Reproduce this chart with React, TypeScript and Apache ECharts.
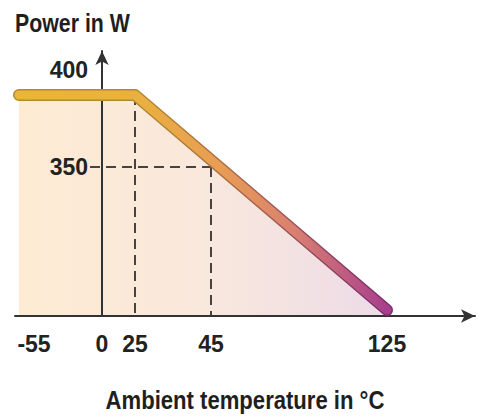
import { useEffect, useRef } from "react";
import * as echarts from "echarts";

// ---- data ----
const tempTicks = [-55, 0, 25, 45, 125];
const powerTicks = [350, 400];
const curveTemp = [-55, 25, 125];
const curvePower = [400, 400, 0];
const guideTemp = [25, 45];
const guidePower = [400, 350];
const yTitle = "Power in W";
const xTitle = "Ambient temperature in °C";

// ---- schematic (non-linear) scale anchors, screen px ----
const W = 479;
const H = 418;
const X_ANCHOR_PX = [19, 102, 135, 211, 387];
const Y_ANCHOR_VAL = [0, 350, 400];
const Y_ANCHOR_PX = [310, 167, 95];
const AXIS_X0 = 15;
const AXIS_X1 = 475;
const AXIS_Y_TOP = 51;
const AXIS_Y_BOTTOM = 316;

function interp(v: number, xs: number[], ys: number[]) {
  for (let i = 0; i < xs.length - 1; i++) {
    if (v <= xs[i + 1] || i === xs.length - 2) {
      const t = (v - xs[i]) / (xs[i + 1] - xs[i]);
      return ys[i] + t * (ys[i + 1] - ys[i]);
    }
  }
  return ys[0];
}
const xPos = (t: number) => interp(t, tempTicks, X_ANCHOR_PX);
const yPos = (p: number) => H - interp(p, Y_ANCHOR_VAL, Y_ANCHOR_PX);
const axisBottom = H - AXIS_Y_BOTTOM;

const FONT = "'Liberation Sans', Arial, sans-serif";

export default function App() {
  const ref = useRef<HTMLDivElement>(null);
  useEffect(() => {
    if (!ref.current) return;
    const chart = echarts.init(ref.current, undefined, { renderer: "svg" });
    const curve = curveTemp.map((t, i) => [xPos(t), yPos(curvePower[i])]);
    const xLabelMap: Record<string, string> = {};
    tempTicks.forEach((t, i) => {
      xLabelMap[xPos(t).toFixed(2)] = i === 0 ? `{first|${t}}` : `${t}`;
    });
    const yLabelMap: Record<string, string> = {};
    powerTicks.forEach((p) => {
      yLabelMap[yPos(p).toFixed(2)] = p === 400 ? `{top|${p}}` : `${p}`;
    });
    const lineGrad = (stops: string[]) =>
      new echarts.graphic.LinearGradient(
        0, 0, 1, 0,
        stops.map((c, i) => ({ offset: [0, 0.33, 0.55, 0.75, 1][i], color: c }))
      );
    const dash = {
      color: "#444",
      width: 2,
      type: [10, 6] as any,
    };
    const guideSeries = [
      [[xPos(guideTemp[0]), yPos(guidePower[0])], [xPos(guideTemp[0]), axisBottom]],
      [[xPos(guideTemp[1]), yPos(guidePower[1])], [xPos(guideTemp[1]), axisBottom]],
      [[xPos(0) - 12, yPos(guidePower[1])], [xPos(guideTemp[1]), yPos(guidePower[1])]],
    ].map((d) => ({
      type: "line",
      data: d,
      symbol: "none",
      silent: true,
      z: 2,
      lineStyle: dash,
    }));
    const labelStyle = {
      fontSize: 23,
      fontWeight: "bold",
      fontFamily: FONT,
      color: "#222",
    };
    const axisLine = {
      show: true,
      onZero: false,
      symbol: ["none", "arrow"],
      symbolSize: [10, 14],
      lineStyle: { color: "#333", width: 2 },
    };
    chart.setOption({
      animation: false,
      grid: {
        left: AXIS_X0,
        right: W - AXIS_X1,
        top: AXIS_Y_TOP,
        bottom: H - AXIS_Y_BOTTOM,
      },
      xAxis: {
        type: "value",
        min: AXIS_X0,
        max: AXIS_X1,
        z: 5,
        splitLine: { show: false },
        axisTick: { show: false },
        axisLine,
        axisLabel: {
          customValues: tempTicks.map(xPos),
          formatter: (v: number) => xLabelMap[v.toFixed(2)] ?? "",
          margin: 16,
          ...labelStyle,
          rich: {
            first: { ...labelStyle, padding: [0, 0, 0, 30] },
          },
        },
      },
      yAxis: {
        type: "value",
        min: H - AXIS_Y_BOTTOM,
        max: H - AXIS_Y_TOP,
        offset: -(xPos(0) - AXIS_X0),
        z: 5,
        splitLine: { show: false },
        axisTick: { show: false },
        axisLine,
        axisLabel: {
          customValues: powerTicks.map(yPos),
          formatter: (v: number) => yLabelMap[v.toFixed(2)] ?? "",
          margin: 14,
          ...labelStyle,
          rich: {
            top: { ...labelStyle, padding: [0, 0, 50, 0] },
          },
        },
      },
      graphic: [
        {
          type: "text",
          x: 15,
          y: 10,
          scaleX: 0.82,
          style: { text: yTitle, font: `bold 26px ${FONT}`, fill: "#1f1f1f" },
        },
        {
          type: "text",
          x: 245,
          y: 387,
          scaleX: 0.85,
          style: {
            text: xTitle,
            font: `bold 26px ${FONT}`,
            fill: "#1f1f1f",
            align: "center",
          },
        },
      ],
      series: [
        {
          type: "line",
          data: curve,
          symbol: "none",
          silent: true,
          z: 1,
          lineStyle: { width: 0 },
          areaStyle: {
            origin: "start",
            opacity: 1,
            color: new echarts.graphic.LinearGradient(0, 0, 1, 0, [
              { offset: 0, color: "#fdebd3" },
              { offset: 0.5, color: "#f9e8dc" },
              { offset: 1, color: "#eddbe8" },
            ]),
          },
        },
        ...guideSeries,
        {
          type: "line",
          data: curve,
          symbol: "none",
          silent: true,
          z: 6,
          lineStyle: {
            width: 12,
            cap: "round",
            join: "round",
            color: lineGrad(["#b08a2e", "#b08a2e", "#a86e40", "#9a5058", "#7a2c6e"]),
          },
        },
        {
          type: "line",
          data: curve,
          symbol: "none",
          silent: true,
          z: 7,
          lineStyle: {
            width: 9,
            cap: "round",
            join: "round",
            color: lineGrad(["#eab53a", "#eab040", "#e89c55", "#d98070", "#a83e8e"]),
          },
        },
      ],
    });
    return () => chart.dispose();
  }, []);
  return <div ref={ref} style={{ width: W, height: H, position: "absolute", left: 0, top: 0 }} />;
}
